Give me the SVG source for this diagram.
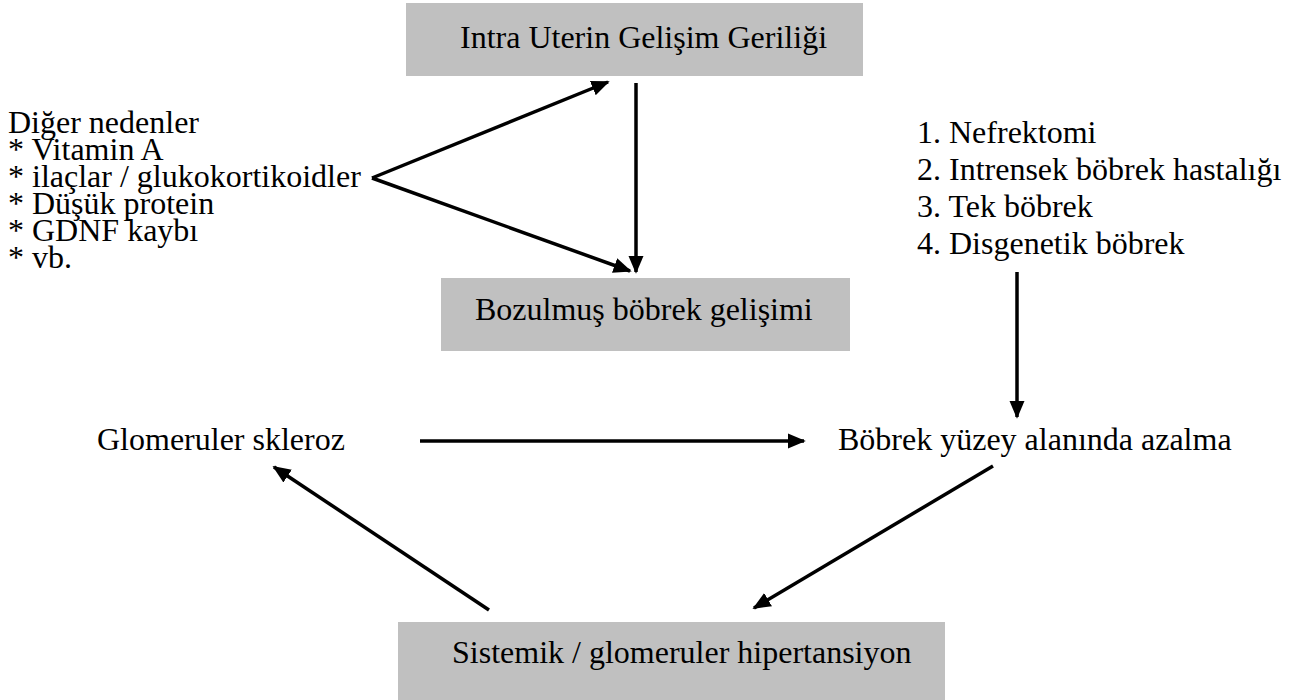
<svg xmlns="http://www.w3.org/2000/svg" width="1298" height="700" viewBox="0 0 1298 700">
<defs>
<style>
text{font-family:"Liberation Serif","Times New Roman",serif;font-size:32px;fill:#000}
.box{fill:#c0c0c0}
.ln{stroke:#000;stroke-width:3.5;fill:none}
</style>
<marker id="ah" viewBox="0 0 10 10" refX="9" refY="5" markerWidth="5.2" markerHeight="5.2" markerUnits="strokeWidth" orient="auto">
<path d="M0,0.8 L10,5 L0,9.2 z" fill="#000"/>
</marker>
</defs>
<rect width="1298" height="700" fill="#fff"/>
<g id="iugr"><rect class="box" x="406" y="3" width="457" height="73"/><text x="460" y="48">Intra Uterin Gelişim Geriliği</text></g>
<g id="other-causes"><text x="8" y="133">Diğer nedenler</text><text x="8" y="160">* Vitamin A</text><text x="8" y="187">* ilaçlar / glukokortikoidler</text><text x="8" y="214">* Düşük protein</text><text x="8" y="241">* GDNF kaybı</text><text x="8" y="268">* vb.</text></g>
<g id="impaired"><rect class="box" x="441" y="278" width="409" height="73"/><text x="475" y="320">Bozulmuş böbrek gelişimi</text></g>
<g id="causes-right"><text x="917" y="143">1. Nefrektomi</text><text x="917" y="180">2. Intrensek böbrek hastalığı</text><text x="917" y="217">3. Tek böbrek</text><text x="917" y="254">4. Disgenetik böbrek</text></g>
<g id="sclerosis"><text x="97" y="450">Glomeruler skleroz</text></g>
<g id="reduced"><text x="838" y="450">Böbrek yüzey alanında azalma</text></g>
<g id="hypertension"><rect class="box" x="398" y="622" width="547" height="78"/><text x="452" y="663">Sistemik / glomeruler hipertansiyon</text></g>
<g id="connectors">
<line class="ln" x1="372" y1="178" x2="608" y2="82" marker-end="url(#ah)"/>
<line class="ln" x1="372" y1="178" x2="630" y2="271" marker-end="url(#ah)"/>
<line class="ln" x1="636" y1="83" x2="636" y2="272" marker-end="url(#ah)"/>
<line class="ln" x1="1017" y1="272" x2="1017" y2="417" marker-end="url(#ah)"/>
<line class="ln" x1="420" y1="441" x2="804" y2="441" marker-end="url(#ah)"/>
<line class="ln" x1="993" y1="466" x2="754" y2="608" marker-end="url(#ah)"/>
<line class="ln" x1="489" y1="610" x2="274" y2="467" marker-end="url(#ah)"/>
</g>
</svg>
